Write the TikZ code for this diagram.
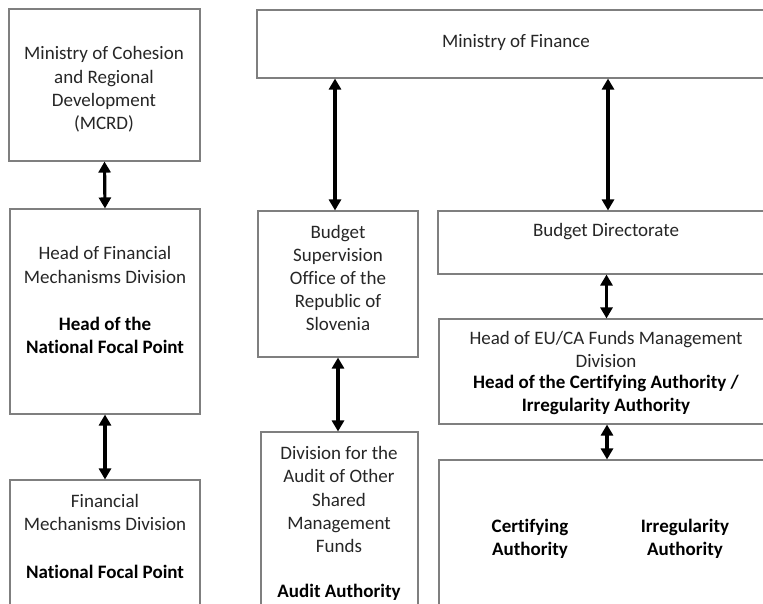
\documentclass[tikz,border=0pt]{standalone}
\usepackage{fontspec}
\setmainfont[Ligatures=NoCommon]{Carlito}
\usetikzlibrary{arrows.meta}
\definecolor{boxline}{HTML}{7F7F7F}
\definecolor{txt}{HTML}{262626}
\begin{document}
\begin{tikzpicture}[x=1pt,y=-1pt,
  box/.style={draw=boxline, line width=1.1pt, inner sep=0pt, fill=white},
  lbl/.style={align=center, text=txt, font=\fontsize{19}{23.2}\selectfont, inner sep=0pt},
  blbl/.style={align=center, text=black, font=\fontsize{19}{23.2}\selectfont\bfseries, inner sep=0pt},
  arr/.style={line width=3.2pt, {Triangle[length=11pt,width=12pt]}-{Triangle[length=11pt,width=12pt]}}]
\useasboundingbox (0,0) rectangle (763,603);
\clip (0,0) rectangle (763,603);
% boxes
\node[box, minimum width=191pt, minimum height=152pt] (mcrd) at (104.5,85) {};
\node[box, minimum width=190pt, minimum height=205pt] (hfmd) at (105,311.5) {};
\node[box, minimum width=190pt, minimum height=140pt] (fmd) at (105,550) {};
\node[box, minimum width=518pt, minimum height=68pt] (mof) at (516,44) {};
\node[box, minimum width=160pt, minimum height=146pt] (bso) at (338,284) {};
\node[box, minimum width=157pt, minimum height=188pt] (dau) at (339.5,526) {};
\node[box, minimum width=337pt, minimum height=63pt] (bd) at (606.5,242.5) {};
\node[box, minimum width=336pt, minimum height=105pt] (heu) at (607,371.5) {};
\node[box, minimum width=336pt, minimum height=160pt] (ca) at (607,540) {};
% texts
\node[lbl] (t1) at (104,89.5) {Ministry of Cohesion\\and Regional\\Development\\(MCRD)};
\node[lbl] (t2) at (105,265) {Head of Financial\\Mechanisms Division};
\node[blbl] (t3) at (105,335.5) {Head of the\\National Focal Point};
\node[lbl] (t4) at (105,512.5) {Financial\\Mechanisms Division};
\node[blbl] (t5) at (105,571.5) {National Focal Point};
\node[lbl] (t6) at (516,42.5) {Ministry of Finance};
\node[lbl] (t7) at (338,278) {Budget\\Supervision\\Office of the\\Republic of\\Slovenia};
\node[lbl] (t8) at (339,499.5) {Division for the\\Audit of Other\\Shared\\Management\\Funds};
\node[blbl] (t9) at (339,592.5) {Audit Authority};
\node[lbl] (t10) at (606,231.5) {Budget Directorate};
\node[lbl] (t11) at (606,349.5) {Head of EU/CA Funds Management\\Division};
\node[blbl] (t12) at (606,395) {Head of the Certifying Authority /\\Irregularity Authority};
\node[blbl] (t13) at (530,539) {Certifying\\Authority};
\node[blbl] (t14) at (685,539) {Irregularity\\Authority};
% arrows
\draw[arr] (mcrd.south) -- (hfmd.north);
\draw[arr] (hfmd.south) -- (fmd.north);
\draw[arr] ([xshift=-3pt]bso.north |- mof.south) -- ([xshift=-3pt]bso.north);
\draw[arr] ([xshift=1.5pt]bd.north |- mof.south) -- ([xshift=1.5pt]bd.north);
\draw[arr] (bso.south) -- (bso.south |- dau.north);
\draw[arr] (bd.south) -- (bd.south |- heu.north);
\draw[arr] (heu.south) -- (ca.north);
\end{tikzpicture}
\end{document}
